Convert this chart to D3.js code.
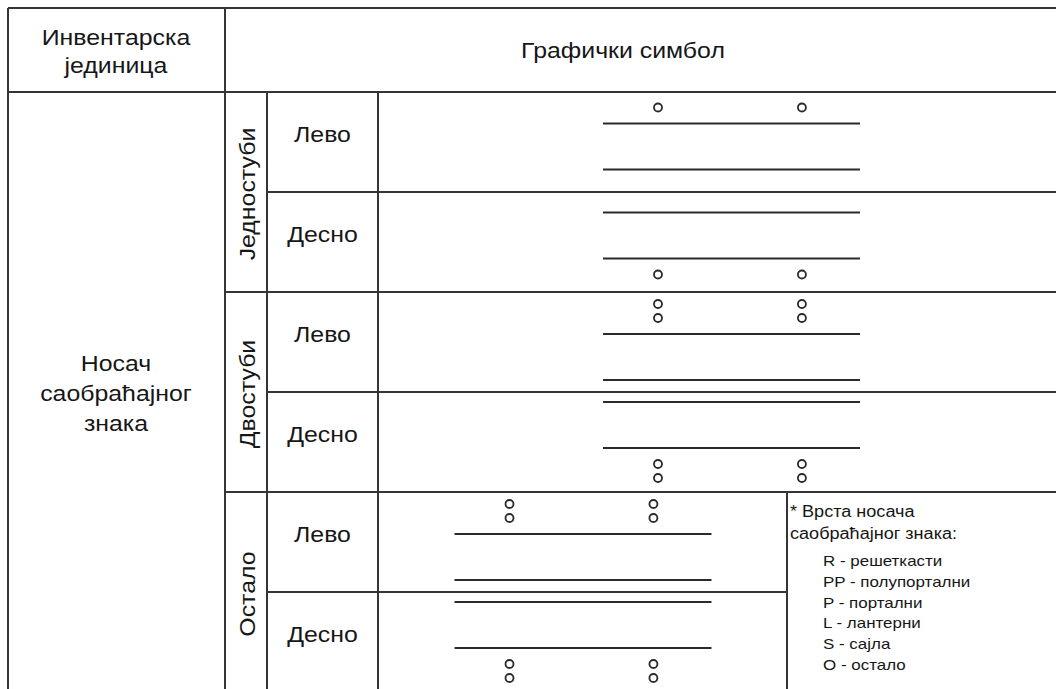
<!DOCTYPE html>
<meta charset="utf-8">
<script src="https://d3js.org/d3.v7.min.js"></script>
<style>
  body { margin: 0; background: #fff; }
  text { font-family: "Liberation Sans", Arial, sans-serif; fill: #161616; }
</style>
<div id="chart"></div>
<script>

// table content
var groups = ["Једностуби", "Двостуби", "Остало"];
var sides = ["Лево", "Десно"];
var postCounts = [1, 2, 2];            // circles stacked per post, per group
var headLeft = ["Инвентарска", "јединица"];
var headRight = "Графички симбол";
var unitLabel = ["Носач", "саобраћајног", "знака"];
var noteTitle = ["* Врста носача", "саобраћајног знака:"];
var noteItems = ["R - решеткасти", "PP - полупортални", "P - портални", "L - лантерни", "S - сајла", "O - остало"];

var W = 1056, H = 689;
var line = "#353535", stretch = 1.13;

var svg = d3.select("#chart").append("svg")
  .attr("width", W).attr("height", H);
svg.append("rect").attr("width", W).attr("height", H).attr("fill", "#fff");

// rows: every group has a left and right row
var rows = [];
groups.forEach(function(g, gi) {
  sides.forEach(function(s, si) {
    rows.push({id: g + ":" + s, group: g, gi: gi, side: s, si: si, n: postCounts[gi]});
  });
});

var yGroup = d3.scaleBand().domain(groups).range([92, 692]);
var yRow = d3.scaleBand().domain(rows.map(function(d) { return d.id; })).range([92, 692]);

// column edges
var col = {left: 8, unit: 225, group: 267, side: 378, note: 787, right: W};

var grid = svg.append("g")
  .attr("stroke", line).attr("stroke-width", 2).attr("fill", "none");

function seg(x1, y1, x2, y2) {
  grid.append("line").attr("x1", x1).attr("y1", y1).attr("x2", x2).attr("y2", y2);
}

seg(col.left, 8, col.right, 8);
seg(col.left, yGroup.range()[0], col.right, yGroup.range()[0]);
seg(col.left, 8, col.left, H);
seg(col.unit, 8, col.unit, H);
seg(col.group, yGroup.range()[0], col.group, H);
seg(col.side, yGroup.range()[0], col.side, H);
seg(col.note, yGroup("Остало"), col.note, H);

// group separators
groups.slice(1).forEach(function(g) {
  seg(col.unit, yGroup(g), col.right, yGroup(g));
});
// left / right separators
rows.filter(function(d) { return d.si === 1; }).forEach(function(d) {
  var xe = d.gi === groups.length - 1 ? col.note : col.right;
  seg(col.group, yRow(d.id), xe, yRow(d.id));
});

// text helper: stretched horizontally like the scanned font
function label(x, y, txt, size, anchor, rot) {
  svg.append("text")
    .attr("transform", "translate(" + x + "," + y + ")" + (rot ? " rotate(" + rot + ")" : "") + " scale(" + stretch + ",1)")
    .attr("text-anchor", anchor || "middle")
    .style("font-size", size + "px")
    .text(txt);
}

// header
headLeft.forEach(function(t, i) { label(116, 45 + i * 28, t, 22); });
label(623, 58, headRight, 22);

// unit label
unitLabel.forEach(function(t, i) { label(116, 371 + i * 30, t, 22); });

// group labels (vertical)
groups.forEach(function(g) {
  label(255, yGroup(g) + yGroup.bandwidth() / 2 + 2, g, 22, "middle", -90);
});

// side labels
rows.forEach(function(d) {
  label((col.group + col.side) / 2, yRow(d.id) + yRow.bandwidth() / 2, d.side, 22);
});

// symbols
var symWidth = 257;
var postFrac = [0.214, 0.774];
var roadGap = 46, postGap = 16, circleGap = 14;

rows.forEach(function(d) {
  var last = d.gi === groups.length - 1;
  var cx = last ? (col.side + col.note) / 2 + 0.5 : 731.5;
  var xs = d3.scaleLinear().domain([0, 1]).range([cx - symWidth / 2, cx + symWidth / 2]);
  var dir = d.si === 0 ? 1 : -1;
  var mid = yRow(d.id) + 49 + dir * (d.n * 10.5 - 5);
  var top = mid - roadGap / 2, bot = mid + roadGap / 2;
  var g = svg.append("g").attr("stroke", "#2a2a2a").attr("fill", "none");

  [top, bot].forEach(function(yy) {
    g.append("line")
      .attr("x1", xs(0)).attr("x2", xs(1))
      .attr("y1", yy).attr("y2", yy)
      .attr("stroke-width", 1.8);
  });

  var posts = [];
  postFrac.forEach(function(f) {
    d3.range(d.n).forEach(function(k) {
      var yy = d.si === 0 ? top - postGap - k * circleGap : bot + postGap + k * circleGap;
      posts.push({x: xs(f), y: yy});
    });
  });
  g.selectAll("circle").data(posts).enter().append("circle")
    .attr("cx", function(p) { return p.x; })
    .attr("cy", function(p) { return p.y; })
    .attr("r", 4)
    .attr("stroke-width", 1.8);
});

// note in the last cell
noteTitle.forEach(function(t, i) { label(790, 517 + i * 22, t, 16, "start"); });
noteItems.forEach(function(t, i) { label(823, 566 + i * 20.8, t, 15, "start"); });

</script>
